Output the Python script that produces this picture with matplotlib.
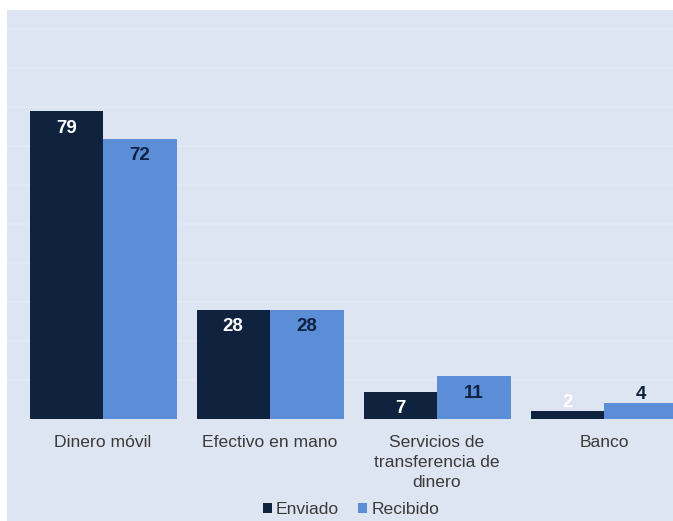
import numpy as np
import matplotlib.pyplot as plt
from matplotlib.patches import Rectangle

plt.rcParams['font.family'] = ['Liberation Sans', 'DejaVu Sans']

categories = ['Dinero móvil', 'Efectivo en mano', 'Servicios de\ntransferencia de\ndinero', 'Banco']
enviado = [79, 28, 7, 2]
recibido = [72, 28, 11, 4]
series_names = ['Enviado', 'Recibido']

dark = '#0f233f'
light = '#5b8ed6'
panel = '#dce5f1'

W, H = 673, 521
fig = plt.figure(figsize=(W / 100, H / 100), dpi=100)

# light panel behind the chart
bg = Rectangle((7 / W, 0), 1 - 7 / W, 1 - 10 / H, transform=fig.transFigure,
               facecolor=panel, edgecolor='none', zorder=-10)
fig.add_artist(bg)

ax = fig.add_axes([7 / W, (H - 419) / H, 1 - 7 / W, (419 - 10) / H])
ax.set_facecolor('none')
ax.set_zorder(2)

x = np.arange(len(categories))
bw = 0.44
b1 = ax.bar(x - bw / 2, enviado, bw, color=dark, label=series_names[0], zorder=3)
b2 = ax.bar(x + bw / 2, recibido, bw, color=light, label=series_names[1], zorder=3)

for bars, vals, col in [(b1, enviado, 'white'), (b2, recibido, '#0f2240')]:
    for rect, v in zip(bars, vals):
        cx = rect.get_x() + rect.get_width() / 2
        off = -17 if v >= 5 else 9
        ax.annotate(str(v), (cx, v), xytext=(0, off), textcoords='offset pixels',
                    ha='center', va='center', color=col, fontsize=13.5,
                    fontweight='bold', zorder=4)

ax.set_xlim(-0.575, 3.413)
ax.set_ylim(0, 105)
ax.set_yticks(np.arange(10, 101, 10))
ax.yaxis.grid(True, color='#e3e9f4', linewidth=1.2, zorder=1)
ax.tick_params(left=False, labelleft=False, bottom=False)
ax.set_xticks(x)
ax.set_xticklabels(categories, fontsize=12.6, color='#3a3a3a', linespacing=1.4)
ax.tick_params(axis='x', pad=8)
for s in ax.spines.values():
    s.set_visible(False)

fig.legend(loc='center', bbox_to_anchor=(351 / W, 1 - 510 / H), ncol=2, frameon=False,
           fontsize=12.6, handlelength=0.5, handleheight=0.5, handletextpad=0.25,
           columnspacing=1.1, labelcolor='#3a3a3a')

fig.savefig('out.png', dpi=100)
